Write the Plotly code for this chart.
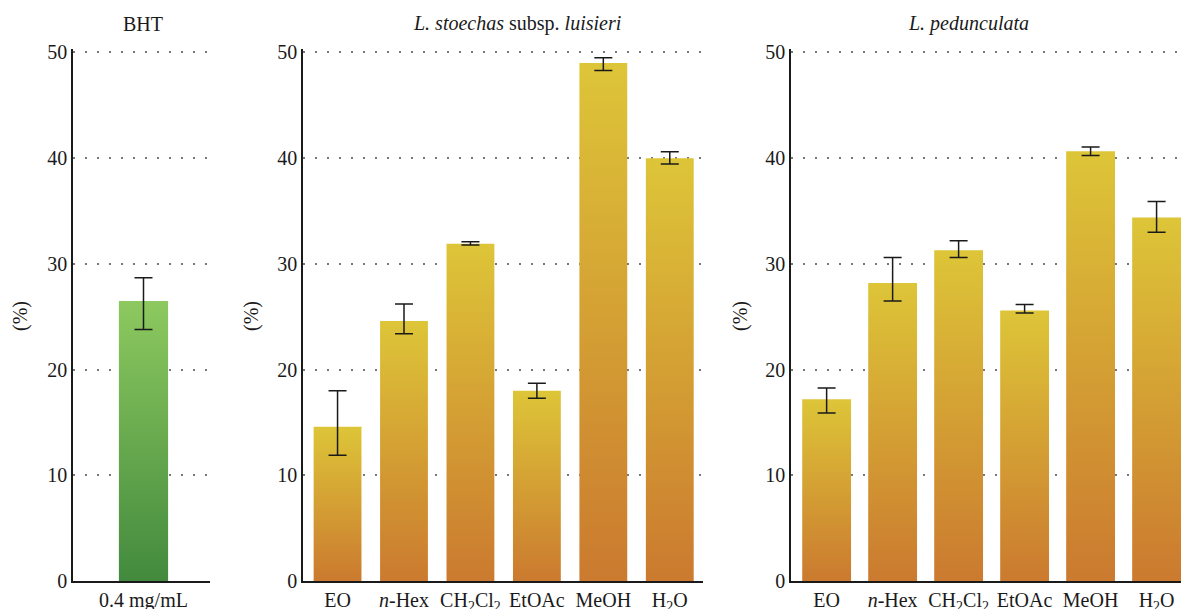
import plotly.graph_objects as go

# ---------------- data ----------------
bht_labels = ["0.4 mg/mL"]
bht_values = [26.5]
bht_err_plus = [2.2]
bht_err_minus = [2.7]

categories = ["EO", "<i>n</i>-Hex", "CH<sub>2</sub>Cl<sub>2</sub>", "EtOAc", "MeOH", "H<sub>2</sub>O"]

stoechas_values = [14.6, 24.6, 31.9, 18.0, 49.0, 40.0]
stoechas_err_plus = [3.4, 1.6, 0.2, 0.7, 0.5, 0.6]
stoechas_err_minus = [2.7, 1.2, 0.1, 0.7, 0.7, 0.55]

pedunculata_values = [17.2, 28.2, 31.3, 25.6, 40.65, 34.4]
pedunculata_err_plus = [1.05, 2.4, 0.9, 0.55, 0.4, 1.5]
pedunculata_err_minus = [1.3, 1.7, 0.7, 0.25, 0.4, 1.4]

y_ticks = [0, 10, 20, 30, 40, 50]

panel_titles = ["BHT", "<i>L. stoechas</i> subsp. <i>luisieri</i>", "<i>L. pedunculata</i>"]

# ---------------- style ----------------
OFF = 0  # body margin removed by post_script
W, H = 1181, 609
FONT = "Liberation Serif"
TXT = "#1a1a1a"
green_scale = [[0, "#438A3E"], [1, "#8DC95F"]]
orange_scale = [[0, "#CB7A2F"], [1, "#DDC538"]]
Y_MAX = 50.3
PX_PER_UNIT = (581 - 52.5) / 50


def px_x(p):
    return (p - OFF) / W


def px_y(p):
    return 1 - (p - OFF) / H


y_dom = [px_y(581), px_y(581 - Y_MAX * PX_PER_UNIT)]
panels = [
    dict(labels=bht_labels, values=bht_values, plus=bht_err_plus, minus=bht_err_minus,
         dom=[px_x(73), px_x(210)], rng=[-1.06, 1.0], bw=0.74, scale=green_scale,
         title_x=143, ytitle_x=20),
    dict(labels=categories, values=stoechas_values, plus=stoechas_err_plus, minus=stoechas_err_minus,
         dom=[px_x(303), px_x(703)], rng=[-0.52, 5.5], bw=0.72, scale=orange_scale,
         title_x=517, ytitle_x=251),
    dict(labels=categories, values=pedunculata_values, plus=pedunculata_err_plus, minus=pedunculata_err_minus,
         dom=[px_x(791), 1.0], rng=[-0.54, 5.37], bw=0.74, scale=orange_scale,
         title_x=968, ytitle_x=740),
]

fig = go.Figure()
annotations = []
for k, p in enumerate(panels):
    ax = "" if k == 0 else str(k + 1)
    xref, yref = "x" + ax, "y" + ax
    idx = list(range(len(p["values"])))
    for i, v in zip(idx, p["values"]):
        hw = p["bw"] / 2
        fig.add_trace(go.Scatter(
            x=[i - hw, i - hw, i + hw, i + hw, i - hw],
            y=[0, v, v, 0, 0],
            mode="lines", fill="toself", line=dict(width=0),
            fillgradient=dict(type="vertical", colorscale=p["scale"]),
            hoverinfo="skip", showlegend=False, xaxis=xref, yaxis=yref))
    fig.add_trace(go.Scatter(
        x=idx, y=p["values"], mode="markers", marker=dict(size=1, opacity=0),
        error_y=dict(type="data", symmetric=False, array=p["plus"], arrayminus=p["minus"],
                     color="#1a1a1a", thickness=1.5, width=9),
        showlegend=False, xaxis=xref, yaxis=yref))

    common = dict(showline=True, linecolor="#1a1a1a", linewidth=1.5, ticks="",
                  zeroline=False, automargin=False,
                  tickfont=dict(family=FONT, size=20, color=TXT))
    fig.layout["xaxis" + ax] = dict(domain=p["dom"], range=p["rng"], tickmode="array",
                                    tickvals=idx, ticktext=p["labels"], showgrid=False,
                                    anchor=yref, fixedrange=True, **common)
    fig.layout["yaxis" + ax] = dict(domain=y_dom, range=[0, Y_MAX], tickmode="array",
                                    tickvals=y_ticks, showgrid=True, gridcolor="#777",
                                    gridwidth=1.5, griddash="1.5px,10.5px",
                                    anchor=xref, fixedrange=True, **common)
    annotations.append(dict(text=panel_titles[k], x=px_x(p["title_x"]), y=px_y(24),
                            xref="paper", yref="paper", showarrow=False,
                            xanchor="center", yanchor="middle",
                            font=dict(family=FONT, size=20, color=TXT)))
    annotations.append(dict(text="(%)", x=px_x(p["ytitle_x"]), y=px_y(316),
                            xref="paper", yref="paper", showarrow=False, textangle=-90,
                            xanchor="center", yanchor="middle",
                            font=dict(family=FONT, size=20, color=TXT)))

fig.update_layout(width=W, height=H, margin=dict(l=0, r=0, t=0, b=0),
                  paper_bgcolor="white", plot_bgcolor="white",
                  annotations=annotations, showlegend=False)

fig.write_html("out.html",
               config={"displayModeBar": False},
               post_script="document.body.style.margin='0';document.body.style.overflow='hidden';")
